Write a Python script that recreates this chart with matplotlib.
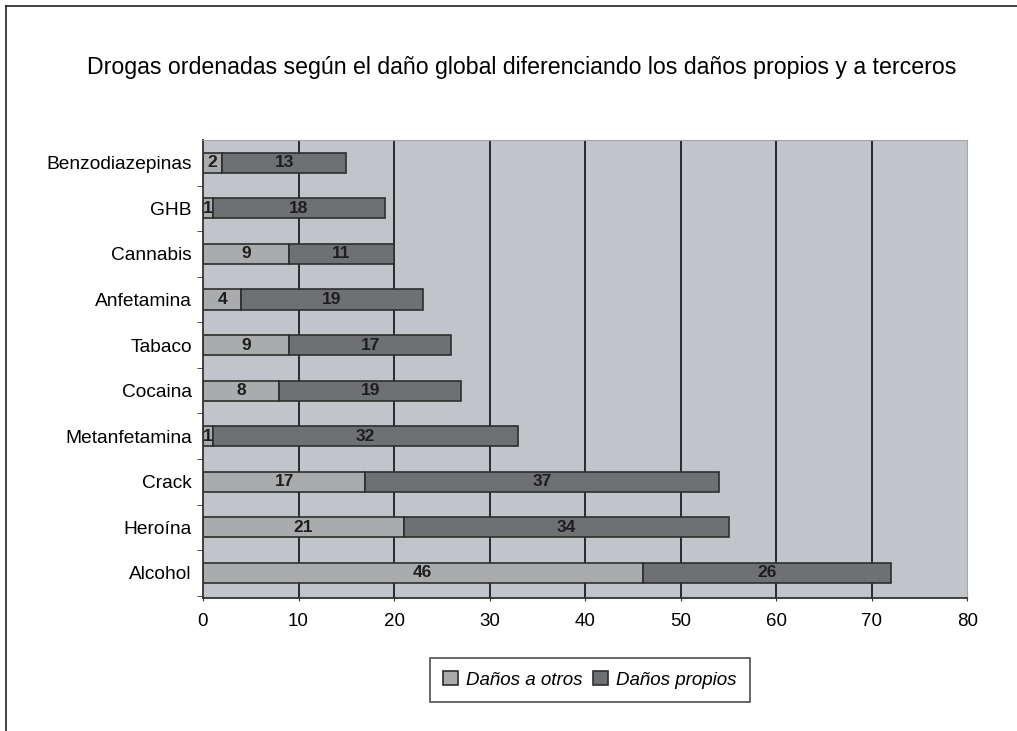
import matplotlib.pyplot as plt
from matplotlib.lines import Line2D
import numpy as np

plt.rcParams['font.family'] = ['Liberation Sans', 'DejaVu Sans']

drogas = ["Benzodiazepinas", "GHB", "Cannabis", "Anfetamina", "Tabaco",
          "Cocaina", "Metanfetamina", "Crack", "Heroína", "Alcohol"]
danos_otros = [2, 1, 9, 4, 9, 8, 1, 17, 21, 46]
danos_propios = [13, 18, 11, 19, 17, 19, 32, 37, 34, 26]

col_otros = "#a9abad"
col_propios = "#6e7074"

fig = plt.figure(figsize=(10.17, 7.31), dpi=100)
ax = fig.add_axes([0.1996, 0.182, 0.7516, 0.6265])
ax.set_facecolor("#c1c4c9")

y = np.arange(len(drogas))
h = 0.44
b1 = ax.barh(y, danos_otros, height=h, color=col_otros, edgecolor="#2e2e2e", linewidth=1.2)
b2 = ax.barh(y, danos_propios, left=danos_otros, height=h, color=col_propios,
             edgecolor="#2e2e2e", linewidth=1.2)

# etiquetas de valor centradas en cada tramo
for i in range(len(drogas)):
    ax.text(danos_otros[i] / 2, y[i], str(danos_otros[i]), ha="center", va="center",
            fontsize=12.5, fontweight="bold", color="#1e1e1e")
    ax.text(danos_otros[i] + danos_propios[i] / 2, y[i], str(danos_propios[i]),
            ha="center", va="center", fontsize=12.5, fontweight="bold", color="#1e1e1e")

ax.set_xlim(0, 80)
ax.set_ylim(len(drogas) - 0.45, -0.5)
ax.set_xticks(range(0, 81, 10))
ax.tick_params(axis="x", labelsize=13.5, length=5, direction="inout", pad=8, color="#333333")
ax.set_yticks(y)
ax.set_yticklabels(drogas, fontsize=13.8)
ax.tick_params(axis="y", length=0, pad=8)
ax.set_yticks(np.arange(len(drogas)) + 0.5, minor=True)
ax.tick_params(axis="y", which="minor", length=4, color="#333333")

for xv in range(10, 80, 10):
    ax.axvline(xv, color="#2a2a2a", linewidth=1.4, zorder=0.5)

ax.spines["left"].set_color("#333333")
ax.spines["bottom"].set_color("#333333")
ax.spines["left"].set_linewidth(1.3)
ax.spines["bottom"].set_linewidth(1.3)
ax.spines["top"].set_color("#a8a8a8")
ax.spines["right"].set_color("#a8a8a8")

fig.text(0.513, 0.907, "Drogas ordenadas según el daño global diferenciando los daños propios y a terceros",
         ha="center", va="center", fontsize=16.7)

leg = fig.legend([b1, b2], ["Daños a otros", "Daños propios"], loc="center",
                 bbox_to_anchor=(0.58, 0.07), ncol=2, prop={"style": "italic", "size": 13.5},
                 handlelength=0.8, handleheight=0.8, handletextpad=0.4, columnspacing=0.6,
                 fancybox=False, edgecolor="#222222", borderpad=0.7)
leg.get_frame().set_linewidth(1.2)

# marco de la figura
fig.add_artist(Line2D([0.006, 1.0], [0.992, 0.992], color="#222222", linewidth=1.2))
fig.add_artist(Line2D([0.006, 0.006], [0.0, 0.992], color="#222222", linewidth=1.2))

plt.savefig("out.png", dpi=100)
